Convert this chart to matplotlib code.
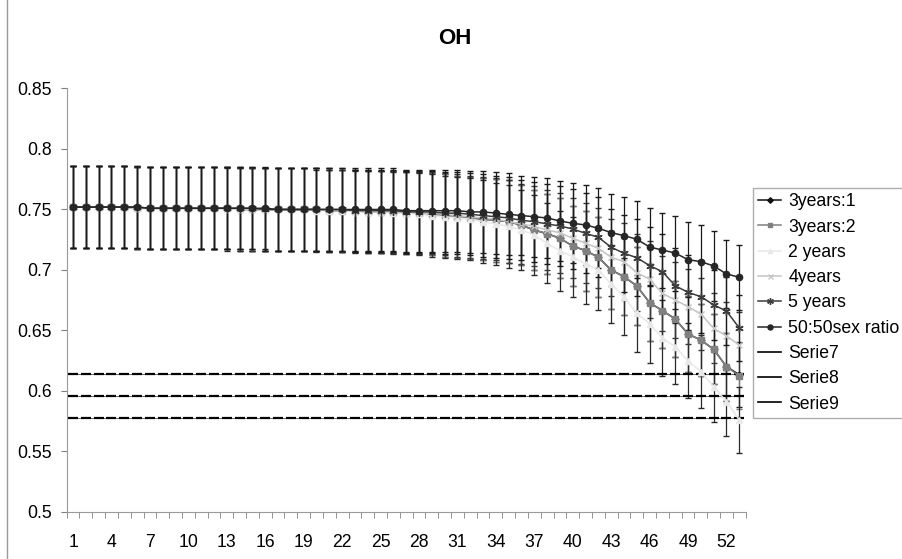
import numpy as np
import matplotlib
matplotlib.use("Agg")
import matplotlib.pyplot as plt
from matplotlib.lines import Line2D

plt.rcParams['font.family'] = ['Liberation Sans', 'DejaVu Sans']

cats = list(range(1, 54))

s_50_50 = [0.752, 0.752, 0.752, 0.752, 0.752, 0.752, 0.751, 0.751, 0.751, 0.751,
           0.751, 0.751, 0.751, 0.751, 0.751, 0.751, 0.750, 0.750, 0.750, 0.750,
           0.750, 0.750, 0.750, 0.750, 0.750, 0.750, 0.749, 0.749, 0.749, 0.749,
           0.749, 0.748, 0.748, 0.747, 0.746, 0.745, 0.744, 0.743,
           0.7405, 0.7386, 0.7372, 0.7345, 0.7309, 0.7284, 0.7254, 0.7190, 0.7165,
           0.7140, 0.7085, 0.7069, 0.7033, 0.6967, 0.6940]

s_5y = [0.752, 0.752, 0.752, 0.752, 0.752, 0.752, 0.751, 0.751, 0.751, 0.751,
        0.751, 0.751, 0.751, 0.751, 0.751, 0.750, 0.750, 0.750, 0.750, 0.750,
        0.750, 0.750, 0.749, 0.749, 0.749, 0.749, 0.748, 0.748, 0.748, 0.747,
        0.747, 0.746, 0.745, 0.744, 0.743, 0.741, 0.740, 0.738,
        0.7364, 0.7339, 0.7303, 0.7270, 0.7188, 0.7138, 0.7102, 0.7036, 0.6986,
        0.6870, 0.6815, 0.6780, 0.6711, 0.6661, 0.6521]

s_4y = [0.752, 0.752, 0.752, 0.752, 0.752, 0.751, 0.751, 0.751, 0.751, 0.751,
        0.751, 0.751, 0.751, 0.751, 0.750, 0.750, 0.750, 0.750, 0.750, 0.750,
        0.750, 0.749, 0.749, 0.749, 0.748, 0.748, 0.748, 0.747, 0.747, 0.746,
        0.745, 0.744, 0.743, 0.742, 0.740, 0.738, 0.736, 0.733,
        0.7308, 0.7262, 0.7221, 0.7179, 0.7105, 0.7069, 0.6978, 0.6923, 0.6807,
        0.6752, 0.6697, 0.6636, 0.6518, 0.6455, 0.6380]

s_3y2 = [0.752, 0.752, 0.752, 0.752, 0.752, 0.751, 0.751, 0.751, 0.751, 0.751,
         0.751, 0.751, 0.751, 0.750, 0.750, 0.750, 0.750, 0.750, 0.750, 0.750,
         0.749, 0.749, 0.749, 0.748, 0.748, 0.748, 0.747, 0.747, 0.746, 0.745,
         0.744, 0.743, 0.742, 0.741, 0.740, 0.737, 0.733, 0.730,
         0.7262, 0.7198, 0.7160, 0.7105, 0.7000, 0.6945, 0.6868, 0.6730, 0.6664,
         0.6595, 0.6471, 0.6421, 0.6345, 0.6201, 0.6124]

s_3y1 = [0.752, 0.752, 0.752, 0.752, 0.752, 0.751, 0.751, 0.751, 0.751, 0.751,
         0.751, 0.751, 0.751, 0.750, 0.750, 0.750, 0.750, 0.750, 0.750, 0.750,
         0.749, 0.749, 0.749, 0.748, 0.748, 0.748, 0.747, 0.747, 0.746, 0.745,
         0.744, 0.743, 0.742, 0.741, 0.740, 0.737, 0.733, 0.730,
         0.7262, 0.7198, 0.7160, 0.7105, 0.7000, 0.6945, 0.6868, 0.6730, 0.6664,
         0.6595, 0.6471, 0.6421, 0.6345, 0.6201, 0.6135]

s_2y = [0.752, 0.752, 0.752, 0.752, 0.752, 0.751, 0.751, 0.751, 0.751, 0.751,
        0.751, 0.751, 0.750, 0.750, 0.750, 0.750, 0.750, 0.750, 0.750, 0.749,
        0.749, 0.749, 0.748, 0.748, 0.748, 0.747, 0.747, 0.746, 0.745, 0.744,
        0.743, 0.742, 0.740, 0.738, 0.736, 0.733, 0.729, 0.722,
        0.7160, 0.7110, 0.7050, 0.7000, 0.6884, 0.6779, 0.6642, 0.6554, 0.6438,
        0.6366, 0.6248, 0.6160, 0.6036, 0.5912, 0.5760]

err = [0.034] * 35 + [0.033, 0.033, 0.033, 0.033, 0.033, 0.033, 0.033,
                      0.032, 0.032, 0.032, 0.032, 0.031, 0.031, 0.031,
                      0.030, 0.029, 0.028, 0.027]

serie7 = [0.614] * 53
serie8 = [0.596] * 53
serie9 = [0.578] * 53

# name, values, line colour, error bar colour, marker, marker size
series = [
    ("3years:1", s_3y1, "#111111", "#1a1a1a", "D", 3.5),
    ("3years:2", s_3y2, "#808080", "#7a7a7a", "s", 4),
    ("2 years", s_2y, "#e8e8e8", "#2a2a2a", "^", 4),
    ("4years", s_4y, "#c4c4c4", "#3a3a3a", "x", 4.5),
    ("5 years", s_5y, "#3c3c3c", "#1a1a1a", (6, 2, 0), 6),
    ("50:50sex ratio", s_50_50, "#262626", "#1a1a1a", "o", 4.5),
]

fig = plt.figure(figsize=(9.02, 5.59), dpi=100)
ax = fig.add_axes([0.0739, 0.0841, 0.7528, 0.7576])

handles = []
for name, vals, col, ecol, mk, ms in series:
    ax.errorbar(cats, vals, yerr=err, color=col, ecolor=ecol, marker=mk,
                markersize=ms, linewidth=1.1, elinewidth=0.9, capsize=2.5,
                capthick=0.9, markeredgewidth=1.0)
    handles.append(Line2D([], [], color=col, marker=mk, markersize=ms * 0.8,
                          linewidth=1.1, label=name))

for name, vals in [("Serie7", serie7), ("Serie8", serie8), ("Serie9", serie9)]:
    ax.plot(cats, vals, color="#666666", linewidth=0.7, marker="_",
            markersize=7.5, markeredgewidth=1.6, markeredgecolor="black")
    handles.append(Line2D([], [], color="black", linewidth=1.2, label=name))

ax.set_xlim(0.5, 53.5)
ax.set_ylim(0.5, 0.85)
yt = [0.5, 0.55, 0.6, 0.65, 0.7, 0.75, 0.8, 0.85]
ax.set_yticks(yt)
ax.set_yticklabels(["0.5", "0.55", "0.6", "0.65", "0.7", "0.75", "0.8", "0.85"])
ax.set_xticks(cats[::3])
ax.set_xticklabels([str(c) for c in cats[::3]])
ax.set_xticks(np.arange(0.5, 54, 1), minor=True)
ax.tick_params(axis="x", which="major", length=0, pad=16, labelsize=12.7)
ax.tick_params(axis="x", which="minor", length=4, color="#808080", direction="out")
ax.tick_params(axis="y", length=4.5, color="#808080", pad=6, labelsize=12.7)

for s in ["top", "right"]:
    ax.spines[s].set_visible(False)
for s in ["left", "bottom"]:
    ax.spines[s].set_color("#9a9a9a")

fig.text(0.504, 0.932, "OH", ha="center", va="center", fontsize=16, fontweight="bold")

leg = fig.legend(handles=handles, loc="upper left",
                 bbox_to_anchor=(753 / 902, 1 - 188 / 559), fontsize=12.7,
                 frameon=True, fancybox=False, handlelength=1.3,
                 handletextpad=0.4, labelspacing=0.47, borderpad=0.3,
                 borderaxespad=0)
leg.get_frame().set_edgecolor("#9a9a9a")
leg.get_frame().set_linewidth(1.0)

fig.add_artist(Line2D([7 / 902, 7 / 902], [0, 1], color="#9a9a9a", linewidth=1.0,
                      transform=fig.transFigure))

plt.savefig("out.png", dpi=100)
